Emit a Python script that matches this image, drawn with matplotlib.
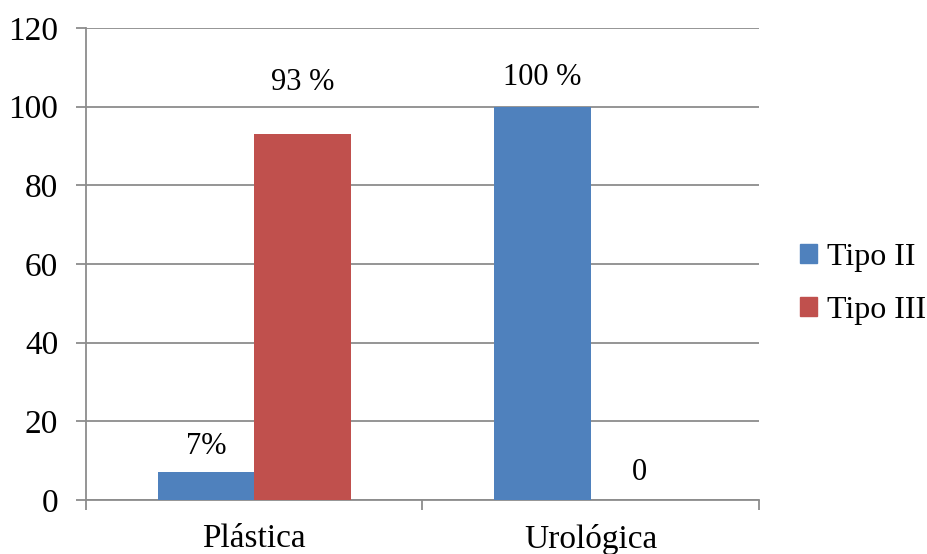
import matplotlib
matplotlib.use("Agg")
import matplotlib.pyplot as plt
import numpy as np
from matplotlib.patches import Patch

plt.rcParams['font.family'] = ['Liberation Serif', 'DejaVu Serif']

categories = ["Plástica", "Urológica"]
series_names = ["Tipo II", "Tipo III"]
tipo_ii = [7, 100]
tipo_iii = [93, 0]
labels_ii = ["7%", "100 %"]
labels_iii = ["93 %", "0"]
yticks = [0, 20, 40, 60, 80, 100, 120]

blue = "#4F81BD"
red = "#C0504D"
grid_col = "#8C8C8C"

fig = plt.figure(figsize=(9.28, 5.54), dpi=100)
ax = fig.add_axes([86 / 928, 54 / 554, (759 - 86) / 928, (500 - 28) / 554])

x = np.arange(len(categories))
w = 0.2865
b1 = ax.bar(x - w / 2, tipo_ii, w, color=blue, zorder=3)
b2 = ax.bar(x + w / 2, tipo_iii, w, color=red, zorder=3)

ax.set_xlim(-0.5, len(categories) - 0.5)
ax.set_ylim(0, 120)
ax.set_yticks(yticks)
ax.set_yticklabels([str(v) for v in yticks])
ax.yaxis.grid(True, color=grid_col, linewidth=1.3, zorder=0)
ax.set_axisbelow(True)

ax.set_xticks(x)
ax.set_xticklabels(categories)
ax.set_xticks(np.arange(-0.5, len(categories)), minor=True)
ax.tick_params(axis='x', which='major', length=0, pad=17, labelsize=24)
ax.tick_params(axis='x', which='minor', length=7.5, width=1.3, color=grid_col, direction='out')
ax.tick_params(axis='y', length=7.5, width=1.3, color=grid_col, pad=12.5, labelsize=24)

for s in ['top', 'right']:
    ax.spines[s].set_visible(False)
for s in ['left', 'bottom']:
    ax.spines[s].set_color(grid_col)
    ax.spines[s].set_linewidth(1.3)

# value labels above the bars (offsets in pixels)
offs_ii = [26, 29]
offs_iii = [52, 27]
for rect, lab, off in zip(b1, labels_ii, offs_ii):
    ax.annotate(lab, (rect.get_x() + rect.get_width() / 2, rect.get_height()),
                xytext=(0, off), textcoords='offset pixels',
                ha='center', va='center', fontsize=22)
for rect, lab, off in zip(b2, labels_iii, offs_iii):
    ax.annotate(lab, (rect.get_x() + rect.get_width() / 2, rect.get_height()),
                xytext=(0, off), textcoords='offset pixels',
                ha='center', va='center', fontsize=22)

handles = [Patch(color=blue), Patch(color=red)]
fig.legend(handles, series_names, loc='center left', bbox_to_anchor=(787 / 928, 1 - 284 / 554),
           frameon=False, fontsize=23, handlelength=0.55, handleheight=0.55,
           handletextpad=0.3, labelspacing=0.75, borderaxespad=0)

fig.savefig("out.png", dpi=100)
